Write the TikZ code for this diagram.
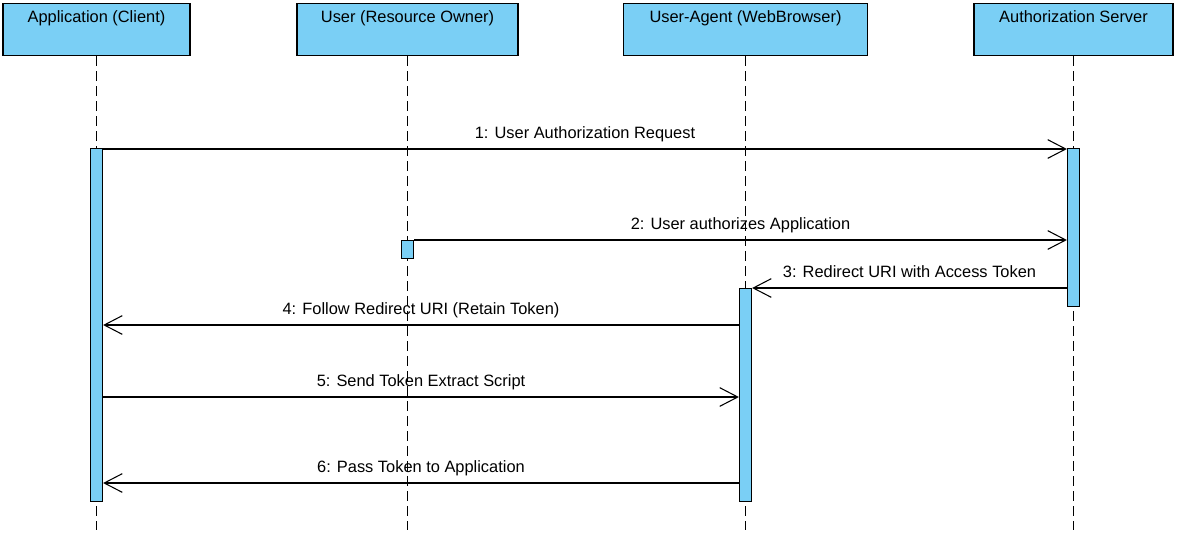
\documentclass[tikz,border=0pt]{standalone}
\usepackage{fontspec}
\setmainfont{Liberation Sans}
\usetikzlibrary{arrows.meta,positioning,calc}
\definecolor{lifeblue}{RGB}{122,207,245}

\begin{document}
\begin{tikzpicture}[x=0.75pt,y=-0.75pt,font=\fontsize{12.3}{14}\selectfont,
    head/.style={draw,fill=lifeblue,line width=0.9pt,inner sep=0pt,
        text height=14.25pt,text depth=24.75pt,anchor=north},
    bar/.style={draw,fill=lifeblue,line width=0.9pt,inner sep=0pt,
        minimum width=9pt,anchor=north},
    life/.style={line width=0.8pt,dash pattern=on 7.5pt off 3.75pt},
    msg/.style={line width=0.8pt,-{Straight Barb[length=13.5pt,width=14pt]}},
    lbl/.style={midway,anchor=base,yshift=8.25pt}]
    \useasboundingbox (0,0) rectangle (1181,537);

    % Message rows and end of lifelines
    \coordinate (m1) at (0,148);
    \coordinate (m2) at (0,240);
    \coordinate (m3) at (0,288);
    \coordinate (m4) at (0,325);
    \coordinate (m5) at (0,397);
    \coordinate (m6) at (0,483);
    \coordinate (bottom) at (0,530);

    % Participants
    \node[head,minimum width=140.25pt] (client) at (96.5,3) {Application (Client)};
    \node[head,minimum width=165.75pt] (owner) at (407.5,3) {User (Resource Owner)};
    \node[head,minimum width=183pt] (agent) at (745.5,3) {User-Agent (WebBrowser)};
    \node[head,minimum width=149.25pt] (server) at (1073.5,3) {Authorization Server};

    % Lifelines
    \foreach \p in {client,owner,agent,server}
        \draw[life] (\p.south) -- (\p.south |- bottom);

    % Activation bars
    \node[bar,minimum height=264.75pt] (actC) at (client.south |- m1) {};
    \node[bar,minimum height=13.5pt] (actO) at (owner.south |- m2) {};
    \node[bar,minimum height=159.75pt] (actA) at (agent.south |- m3) {};
    \node[bar,minimum height=118.5pt] (actS) at (server.south |- m1) {};

    % Messages
    \draw[msg] ($(actC.east |- m1)+(0,1)$) -- node[lbl] {1: User Authorization Request} ($(actS.west |- m1)+(0,1)$);
    \draw[msg] (actO.east |- m2) -- node[lbl] {2: User authorizes Application} (actS.west |- m2);
    \draw[msg] (actS.west |- m3) -- node[lbl] {3: Redirect URI with Access Token} (actA.east |- m3);
    \draw[msg] (actA.west |- m4) -- node[lbl] {4: Follow Redirect URI (Retain Token)} (actC.east |- m4);
    \draw[msg] (actC.east |- m5) -- node[lbl] {5: Send Token Extract Script} (actA.west |- m5);
    \draw[msg] (actA.west |- m6) -- node[lbl] {6: Pass Token to Application} (actC.east |- m6);
\end{tikzpicture}
\end{document}
